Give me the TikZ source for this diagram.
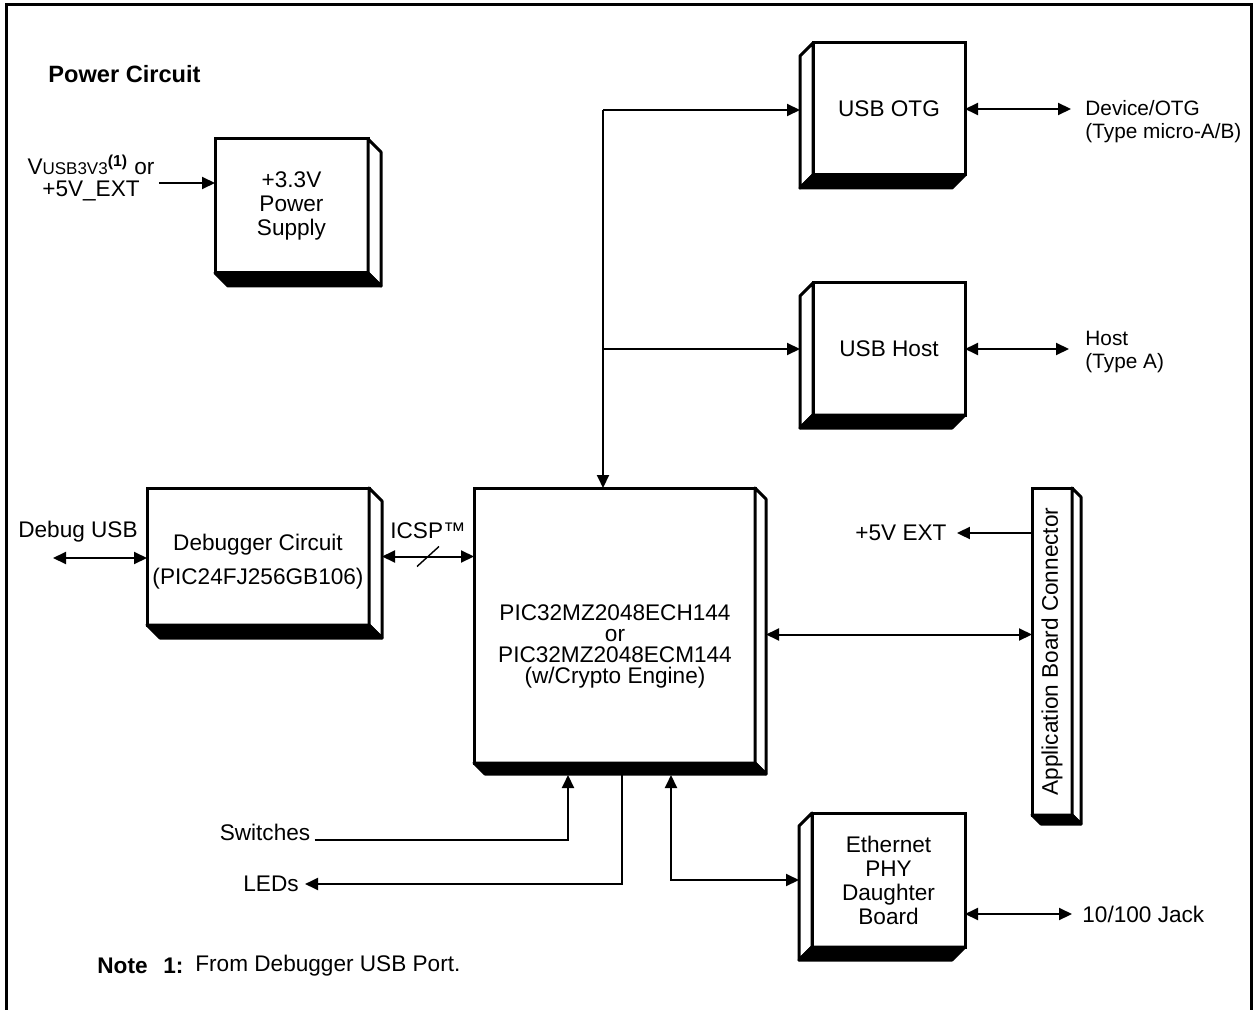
\documentclass[tikz,border=0pt]{standalone}
\usepackage{fontspec}
\setmainfont{Liberation Sans}
\usetikzlibrary{arrows.meta,calc}

\tikzset{
  every node/.style={font=\fontsize{11.3}{12}\selectfont},
  box/.style={draw, line width=1.5pt, fill=white, outer sep=0pt, inner sep=0pt, align=center},
  sideface/.style={draw, line width=1.5pt, fill=white, line join=round},
  bottomface/.style={draw, line width=1.5pt, fill=black, line join=round},
  arr/.style={-{Triangle[length=6.5pt,width=6pt]}, line width=1pt},
  dbl/.style={{Triangle[length=6.5pt,width=6pt]}-{Triangle[length=6.5pt,width=6pt]}, line width=1pt},
  lbl/.style={inner sep=0pt, align=center},
  port/.style={inner sep=0pt, anchor=west, align=left, font=\fontsize{10.4}{11.5}\selectfont},
}

\begin{document}
\begin{tikzpicture}[x=0.5pt,y=-0.5pt]
\useasboundingbox (0,0) rectangle (1256,1010);
\draw[line width=1.5pt] (6,1012) |- (1251,5) -- (1251,1012);

\node[lbl, anchor=west, font=\bfseries\fontsize{11.8}{14}\selectfont] (title) at (48,74) {Power Circuit};

\node[box, minimum width=76.5pt, minimum height=67pt] (psu) at (291.5,206) {+3.3V\\Power\\Supply};
\node[box, minimum width=76pt, minimum height=66pt] (otg) at (889,109) {USB OTG};
\node[box, minimum width=76pt, minimum height=66pt] (host) at (889,349) {USB Host};
\node[box, minimum width=111pt, minimum height=68.5pt] (dbg) at (258,556.5) {};
\node[box, minimum width=140.5pt, minimum height=137.5pt] (pic) at (614.5,625.5) {};
\node[box, minimum width=20pt, minimum height=163.5pt] (conn) at (1052,651.5) {};
\node[box, minimum width=76.5pt, minimum height=67pt] (eth) at (888.5,880) {Ethernet\\PHY\\Daughter\\Board};

\node[lbl] (dbgtxt) at (258,562) {Debugger Circuit\\[5pt](PIC24FJ256GB106)};
\node[lbl, font=\fontsize{11.3}{10.5}\selectfont] (pictxt) at (615,646) {PIC32MZ2048ECH144\\or\\PIC32MZ2048ECM144\\(w/Crypto Engine)};
\node[lbl, rotate=90] (conntxt) at (conn.center) {Application Board Connector};

\foreach \n/\d in {psu/13,dbg/13,pic/11,conn/9}{
  \draw[sideface] (\n.north east) -- ++(\d,\d) -- ($(\n.south east)+(\d,\d)$) -- (\n.south east) -- cycle;
  \draw[bottomface] (\n.south west) -- (\n.south east) -- ($(\n.south east)+(\d,\d)$) -- ($(\n.south west)+(\d,\d)$) -- cycle;
}
\foreach \n/\d in {otg/13,host/13,eth/13}{
  \draw[sideface] (\n.north west) -- ++(-\d,\d) -- ($(\n.south west)+(-\d,\d)$) -- (\n.south west) -- cycle;
  \draw[bottomface] (\n.south west) -- (\n.south east) -- ($(\n.south east)+(-\d,\d)$) -- ($(\n.south west)+(-\d,\d)$) -- cycle;
}

\node[lbl, font=\fontsize{11.3}{11}\selectfont] (vin) at (91,178) {V{\fontsize{8.5}{10}\selectfont USB3V3}\textsuperscript{\textbf{(1)}} or\\+5V\_EXT};
\draw[arr] ([shift={(2pt,-2.5pt)}]vin.east) -- ([yshift=-2.5pt]vin.east -| psu.west);

\coordinate (bus) at (603,110);
\draw[arr] (bus) -- (bus |- pic.north);
\draw[arr] (bus) -- ([xshift=-6.5pt]bus -| otg.west);
\draw[arr] (bus |- host.west) -- ([xshift=-6.5pt]host.west);

\node[port] (otgport) at (1085,121.5) {Device/OTG\\(Type micro-A/B)};
\draw[dbl] (otg.east) -- ([xshift=-7pt]otg.east -| otgport.west);
\node[port] (hostport) at (1085,352) {Host\\(Type A)};
\draw[dbl] (host.east) -- ([xshift=-8pt]host.east -| hostport.west);

\node[lbl] (dbgusb) at (78,532) {Debug USB};
\coordinate (dbgend) at (53,558);
\draw[dbl] (dbgend) -- (dbgend -| dbg.west);

\draw[dbl] ([xshift=6.5pt]dbg.east) -- (dbg.east -| pic.west)
  coordinate[pos=0.5] (icspmid) node[pos=0.5, above=5pt] (icsp) {ICSP™};
\draw[line width=0.7pt] ([shift={(-5.5pt,-5pt)}]icspmid) -- ([shift={(5.5pt,5pt)}]icspmid);

\node[lbl] (v5) at (901,533) {+5V EXT};
\draw[arr] (v5.east -| conn.west) -- ([xshift=5pt]v5.east);
\draw[dbl] ([shift={(5.5pt,-4.5pt)}]pic.east) -- ([yshift=-4.5pt]pic.east -| conn.west);

\node[lbl] (sw) at (265,832) {Switches};
\coordinate (swin) at (568,775);
\draw[arr] ([xshift=2pt]sw.base east) -| (swin);
\node[lbl] (led) at (271,884) {LEDs};
\coordinate (ledout) at (622,775);
\draw[arr] (ledout) |- ([xshift=3pt]led.east);
\coordinate (ethin) at (671,775);
\draw[dbl] (ethin) |- ([xshift=-6.5pt]eth.west);

\node[lbl, anchor=west] (jack) at (1082,914) {10/100 Jack};
\draw[dbl] (jack.west -| eth.east) -- ([xshift=-5pt]jack.west);

\node[lbl, anchor=west, font=\bfseries\fontsize{11.3}{12}\selectfont] (note) at (97,966) {Note};
\node[lbl, anchor=west, font=\bfseries\fontsize{11.3}{12}\selectfont] (notenum) at (163,966) {1:};
\node[lbl, anchor=west] (notetxt) at (195,966) {From Debugger USB Port.};
\end{tikzpicture}
\end{document}
